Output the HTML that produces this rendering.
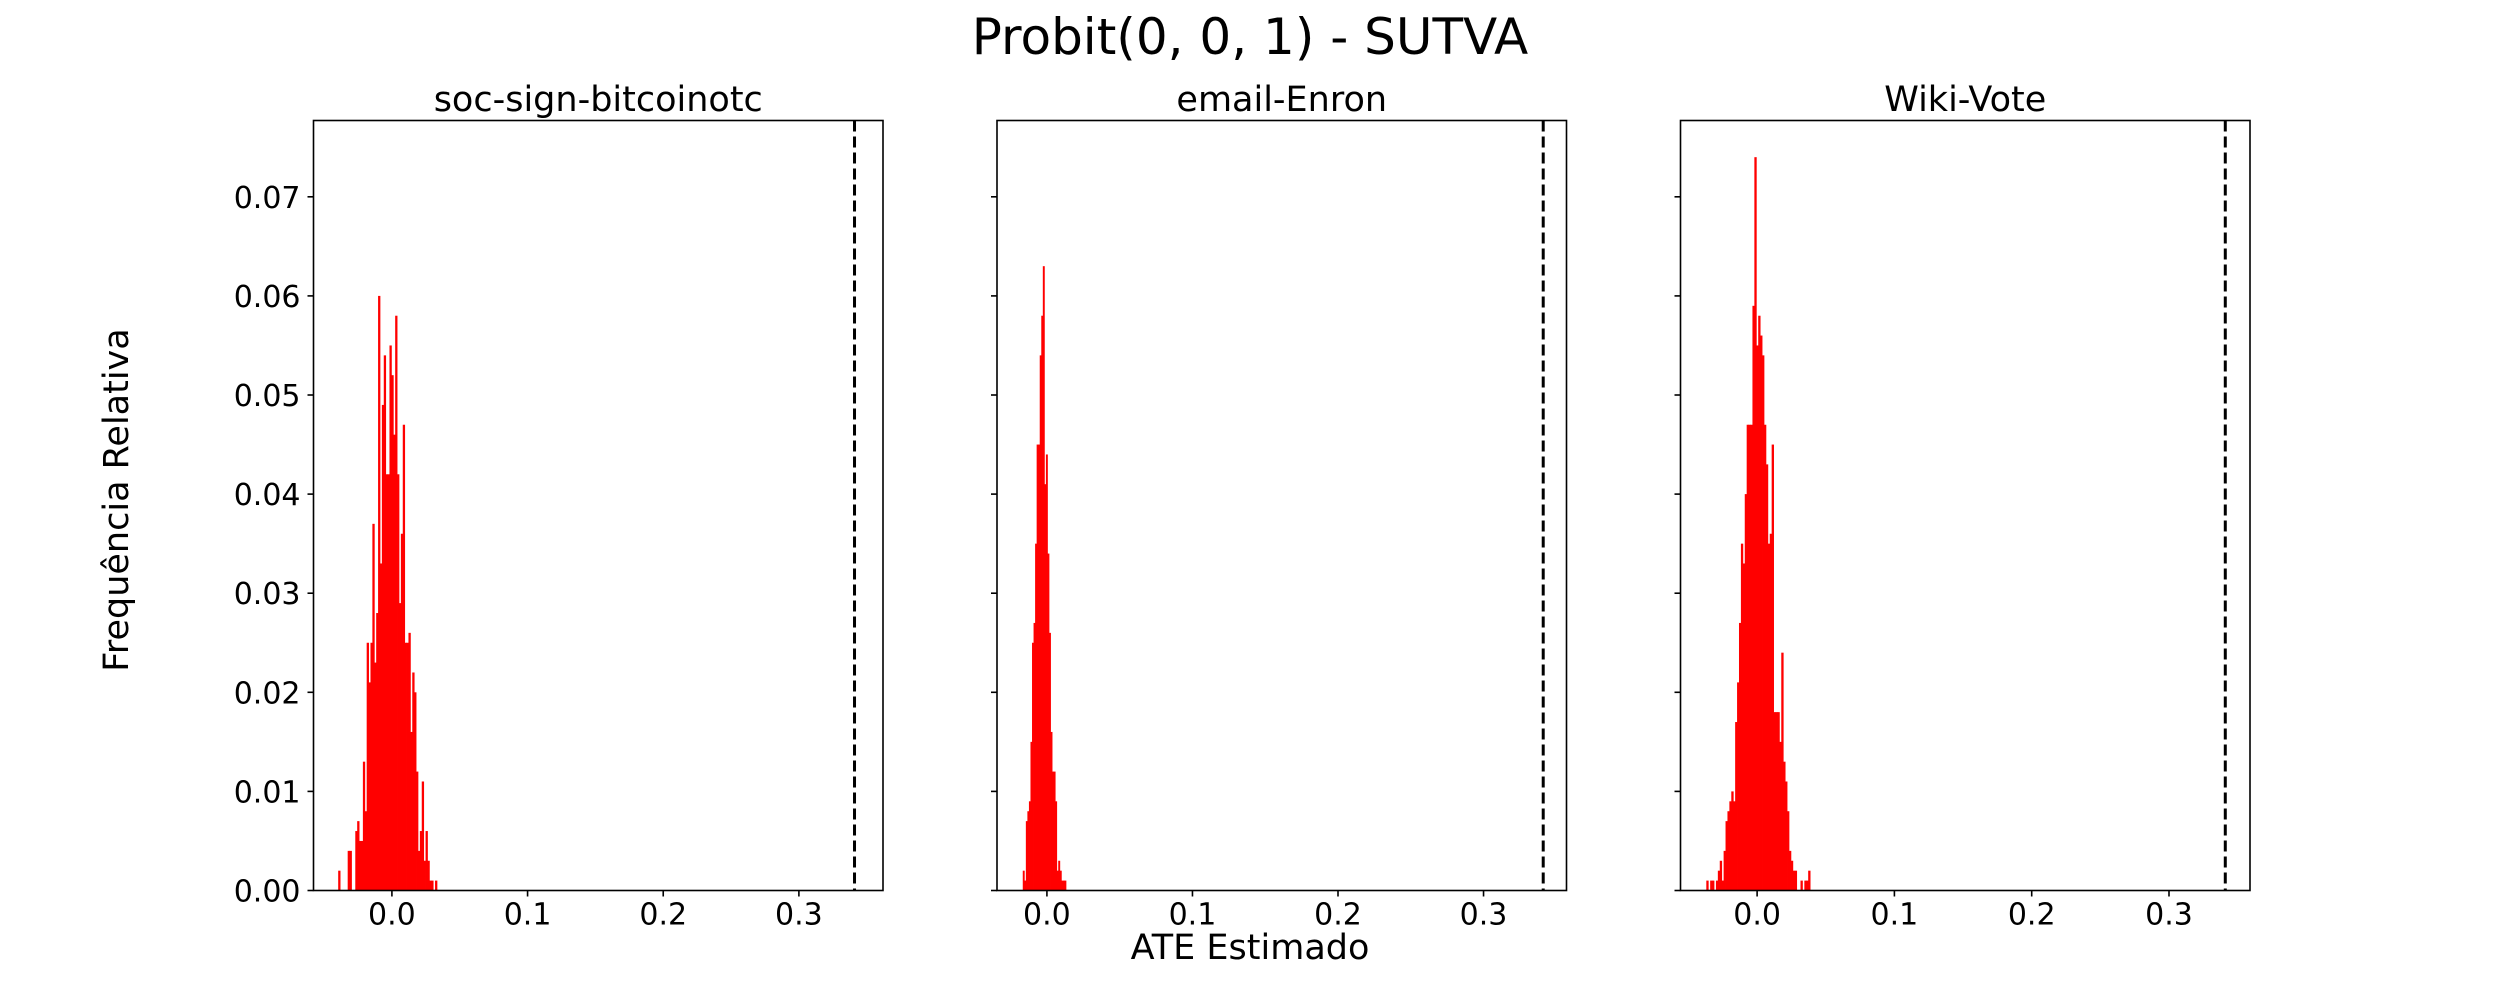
<!DOCTYPE html>
<html><head><meta charset="utf-8"><style>
html,body{margin:0;padding:0;background:#fff;}
svg{display:block;font-family:"DejaVu Sans","Liberation Sans",sans-serif;}
</style></head><body>
<svg id="chart" width="2500" height="1000" viewBox="0 0 2500 1000" xmlns="http://www.w3.org/2000/svg">
<rect width="2500" height="1000" fill="#fff"/>
<text x="1250" y="54" font-size="50" text-anchor="middle">Probit(0, 0, 1) - SUTVA</text>
<text transform="translate(128,500) rotate(-90)" font-size="35" text-anchor="middle">Frequência Relativa</text>
<text x="1250" y="959" font-size="35" text-anchor="middle">ATE Estimado</text>
<g id="panels"></g>
</svg>
<script>
// ---- data ----
const panelTitles = ["soc-sign-bitcoinotc", "email-Enron", "Wiki-Vote"];
const binStarts = [-0.0396, -0.0166, -0.037];
const binWidths = [0.0014, 0.00106, 0.0014];
const freqBitcoin = [0.002,0,0,0,0,0.004,0.004,0,0,0.006,0.007,0.005,0.005,0.013,0.008,0.025,0.021,0.025,0.037,0.023,0.028,0.060,0.033,0.049,0.054,0.042,0.042,0.055,0.052,0.046,0.058,0.042,0.029,0.036,0.047,0.025,0.025,0.026,0.016,0.022,0.020,0.012,0.004,0.006,0.011,0.003,0.006,0.003,0.001,0.001,0,0.001];
const freqEnron = [0.002,0.001,0.007,0.008,0.009,0.015,0.025,0.027,0.035,0.045,0.045,0.054,0.058,0.063,0.041,0.044,0.034,0.026,0.016,0.012,0.012,0.009,0.002,0.003,0.002,0.001,0.001,0.001];
const freqWiki = [0.001,0,0.001,0.001,0,0.001,0.002,0.003,0.001,0.004,0.007,0.008,0.009,0.010,0.009,0.017,0.021,0.027,0.035,0.033,0.040,0.047,0.047,0.047,0.059,0.074,0.055,0.058,0.056,0.054,0.047,0.043,0.035,0.036,0.045,0.018,0.018,0.018,0.015,0.024,0.013,0.011,0.008,0.004,0.003,0.002,0.002,0,0,0.001,0,0.001,0.001,0.002];
const trueATE = [0.341, 0.341, 0.341];
const xMins = [-0.0578, -0.0343, -0.0558];
const xMaxs = [0.362, 0.357, 0.359];
const xTicks = [0.0, 0.1, 0.2, 0.3];
const xTickLabels = ["0.0", "0.1", "0.2", "0.3"];
const yTicks = [0, 0.01, 0.02, 0.03, 0.04, 0.05, 0.06, 0.07];
const yTickLabels = ["0.00","0.01","0.02","0.03","0.04","0.05","0.06","0.07"];
const yMax = 0.0777;

const allFreq = [freqBitcoin, freqEnron, freqWiki];
const panelLefts = [313.5, 997, 1680.5];
const panelW = 569.5, topY = 120.5, bottomY = 890.5;
const NS = "http://www.w3.org/2000/svg";
const root = document.getElementById("panels");
function mk(tag, attrs, parent){const e=document.createElementNS(NS,tag);for(const k in attrs)e.setAttribute(k,attrs[k]);parent.appendChild(e);return e;}

allFreq.forEach((freq, p) => {
  const L = panelLefts[p];
  const xs = v => L + (v - xMins[p]) / (xMaxs[p] - xMins[p]) * panelW;
  const ys = v => bottomY - v / yMax * (bottomY - topY);
  const g = mk("g", {}, root);
  
  
  const t = mk("text", {x: L + panelW/2, y: 111, "font-size": 35, "text-anchor": "middle"}, g);
  t.textContent = panelTitles[p];
  
  
  freq.forEach((f, i) => {
    if (f <= 0) return;
    const x0 = xs(binStarts[p] + i*binWidths[p]), x1 = xs(binStarts[p] + (i+1)*binWidths[p]);
    const r = mk("rect", {x: x0, y: ys(f), width: Math.max(x1-x0, 0.5) + 0.4, height: bottomY - ys(f), fill: "#ff0000"}, g);
    
    
  });
  const dl = mk("line", {x1: xs(trueATE[p]), x2: xs(trueATE[p]), y1: topY, y2: bottomY, stroke: "#000", "stroke-width": 3, "stroke-dasharray": "11 5"}, g);
  
  
  const fr = mk("rect", {x: L, y: topY, width: panelW, height: bottomY - topY, fill: "none", stroke: "#000", "stroke-width": 1.6}, g);
  
  
  xTicks.forEach((v, i) => {
    const x = xs(v);
    const tk = mk("line", {x1: x, x2: x, y1: bottomY, y2: bottomY + 6, stroke: "#000", "stroke-width": 1.6}, g);
    
    
    const lb = mk("text", {x: x, y: bottomY + 34, "font-size": 30, "text-anchor": "middle"}, g);
    lb.textContent = xTickLabels[i];
    
    
  });
  yTicks.forEach((v, i) => {
    const y = ys(v);
    const tk = mk("line", {x1: L - 6, x2: L, y1: y, y2: y, stroke: "#000", "stroke-width": 1.6}, g);
    
    
    if (p === 0) {
      const lb = mk("text", {x: L - 13, y: y + 11, "font-size": 30, "text-anchor": "end"}, g);
      lb.textContent = yTickLabels[i];
      
      
    }
  });
});
</script>
</body></html>
